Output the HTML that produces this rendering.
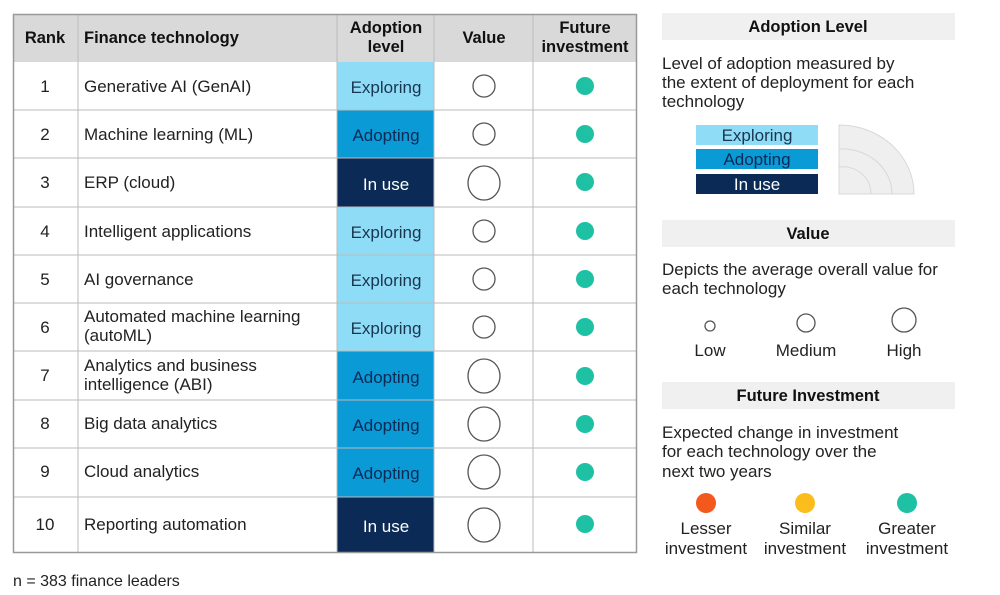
<!DOCTYPE html>
<html><head><meta charset="utf-8"><style>
html,body{margin:0;padding:0;background:#fff;}
svg{display:block;font-family:"Liberation Sans",sans-serif;}
</style></head><body>
<svg width="1000" height="595" viewBox="0 0 1000 595" xmlns="http://www.w3.org/2000/svg">
<rect x="13" y="14" width="624" height="48" fill="#d9d9d9"/>
<g font-weight="bold" font-size="16.5" fill="#111" text-anchor="middle">
<text x="45" y="43">Rank</text>
<text x="84" y="43" text-anchor="start">Finance technology</text>
<text x="386" y="33">Adoption</text><text x="386" y="52">level</text>
<text x="484" y="43">Value</text>
<text x="585" y="33">Future</text><text x="585" y="52">investment</text>
</g>
<g>
<rect x="337" y="62" width="97" height="48" fill="#8fdcf7"/>
<rect x="337" y="110" width="97" height="48" fill="#0a9ad6"/>
<rect x="337" y="158" width="97" height="49" fill="#0b2a55"/>
<rect x="337" y="207" width="97" height="48" fill="#8fdcf7"/>
<rect x="337" y="255" width="97" height="48" fill="#8fdcf7"/>
<rect x="337" y="303" width="97" height="48" fill="#8fdcf7"/>
<rect x="337" y="351" width="97" height="49" fill="#0a9ad6"/>
<rect x="337" y="400" width="97" height="48" fill="#0a9ad6"/>
<rect x="337" y="448" width="97" height="49" fill="#0a9ad6"/>
<rect x="337" y="497" width="97" height="56" fill="#0b2a55"/>
</g>
<g stroke="#bbb" stroke-width="1">
<line x1="13" y1="110" x2="637" y2="110"/><line x1="13" y1="158" x2="637" y2="158"/>
<line x1="13" y1="207" x2="637" y2="207"/><line x1="13" y1="255" x2="637" y2="255"/>
<line x1="13" y1="303" x2="637" y2="303"/><line x1="13" y1="351" x2="637" y2="351"/>
<line x1="13" y1="400" x2="637" y2="400"/><line x1="13" y1="448" x2="637" y2="448"/>
<line x1="13" y1="497" x2="637" y2="497"/>
<line x1="78" y1="14" x2="78" y2="553"/><line x1="337" y1="14" x2="337" y2="553"/>
<line x1="434" y1="14" x2="434" y2="553"/><line x1="533" y1="14" x2="533" y2="553"/>
</g>
<rect x="13.5" y="14.5" width="623" height="538" fill="none" stroke="#999" stroke-width="1.5"/>
<g font-size="17" fill="#222">
<g text-anchor="middle">
<text x="45" y="92">1</text><text x="45" y="140">2</text><text x="45" y="188">3</text>
<text x="45" y="237">4</text><text x="45" y="285">5</text><text x="45" y="333">6</text>
<text x="45" y="381">7</text><text x="45" y="429">8</text><text x="45" y="477">9</text>
<text x="45" y="530">10</text>
</g>
<text x="84" y="92">Generative AI (GenAI)</text>
<text x="84" y="140">Machine learning (ML)</text>
<text x="84" y="188">ERP (cloud)</text>
<text x="84" y="237">Intelligent applications</text>
<text x="84" y="285">AI governance</text>
<text x="84" y="322">Automated machine learning</text><text x="84" y="341">(autoML)</text>
<text x="84" y="371">Analytics and business</text><text x="84" y="390">intelligence (ABI)</text>
<text x="84" y="429">Big data analytics</text>
<text x="84" y="477">Cloud analytics</text>
<text x="84" y="530">Reporting automation</text>
</g>
<g font-size="17" text-anchor="middle">
<text x="386" y="93" fill="#1a3550">Exploring</text>
<text x="386" y="141" fill="#0b2a55">Adopting</text>
<text x="386" y="190" fill="#fff">In use</text>
<text x="386" y="238" fill="#1a3550">Exploring</text>
<text x="386" y="286" fill="#1a3550">Exploring</text>
<text x="386" y="334" fill="#1a3550">Exploring</text>
<text x="386" y="383" fill="#0b2a55">Adopting</text>
<text x="386" y="431" fill="#0b2a55">Adopting</text>
<text x="386" y="479" fill="#0b2a55">Adopting</text>
<text x="386" y="532" fill="#fff">In use</text>
</g>
<g fill="#fff" stroke="#555" stroke-width="1.3">
<circle cx="484" cy="86" r="11"/><circle cx="484" cy="134" r="11"/>
<ellipse cx="484" cy="183" rx="16" ry="17"/>
<circle cx="484" cy="231" r="11"/><circle cx="484" cy="279" r="11"/>
<circle cx="484" cy="327" r="11"/>
<ellipse cx="484" cy="376" rx="16" ry="17"/>
<ellipse cx="484" cy="424" rx="16" ry="17"/>
<ellipse cx="484" cy="472" rx="16" ry="17"/>
<ellipse cx="484" cy="525" rx="16" ry="17"/>
</g>
<g fill="#1fc1a4">
<circle cx="585" cy="86" r="9"/><circle cx="585" cy="134" r="9"/><circle cx="585" cy="182" r="9"/>
<circle cx="585" cy="231" r="9"/><circle cx="585" cy="279" r="9"/><circle cx="585" cy="327" r="9"/>
<circle cx="585" cy="376" r="9"/><circle cx="585" cy="424" r="9"/><circle cx="585" cy="472" r="9"/>
<circle cx="585" cy="524" r="9"/>
</g>
<text x="13" y="586" font-size="16" fill="#222">n = 383 finance leaders</text>

<rect x="662" y="13" width="293" height="27" fill="#f0f0f0"/>
<text x="808" y="32" font-size="16.5" font-weight="bold" text-anchor="middle" fill="#111">Adoption Level</text>
<g font-size="17" fill="#222">
<text x="662" y="69">Level of adoption measured by</text>
<text x="662" y="88">the extent of deployment for each</text>
<text x="662" y="107">technology</text>
</g>
<rect x="696" y="125" width="122" height="20" fill="#8fdcf7"/>
<rect x="696" y="149" width="122" height="20" fill="#0a9ad6"/>
<rect x="696" y="174" width="122" height="20" fill="#0b2a55"/>
<g font-size="17" text-anchor="middle">
<text x="757" y="141" fill="#1a3550">Exploring</text>
<text x="757" y="165" fill="#0b2a55">Adopting</text>
<text x="757" y="190" fill="#fff">In use</text>
</g>
<g fill="#efefef" stroke="#d8d8d8" stroke-width="1">
<path d="M839 194 V125 A75 69 0 0 1 914 194 Z"/>
<path d="M839 194 V149 A50 45 0 0 1 892 194" fill="none"/>
<path d="M839 194 V167 A28 27 0 0 1 871 194" fill="none"/>
</g>
<rect x="662" y="220" width="293" height="27" fill="#f0f0f0"/>
<text x="808" y="239" font-size="16.5" font-weight="bold" text-anchor="middle" fill="#111">Value</text>
<g font-size="17" fill="#222">
<text x="662" y="275">Depicts the average overall value for</text>
<text x="662" y="294">each technology</text>
</g>
<g fill="#fff" stroke="#555" stroke-width="1.3">
<circle cx="710" cy="326" r="5"/><circle cx="806" cy="323" r="9"/><circle cx="904" cy="320" r="12"/>
</g>
<g font-size="17" fill="#222" text-anchor="middle">
<text x="710" y="356">Low</text><text x="806" y="356">Medium</text><text x="904" y="356">High</text>
</g>
<rect x="662" y="382" width="293" height="27" fill="#f0f0f0"/>
<text x="808" y="401" font-size="16.5" font-weight="bold" text-anchor="middle" fill="#111">Future Investment</text>
<g font-size="17" fill="#222">
<text x="662" y="438">Expected change in investment</text>
<text x="662" y="457">for each technology over the</text>
<text x="662" y="477">next two years</text>
</g>
<circle cx="706" cy="503" r="10" fill="#f3581d"/>
<circle cx="805" cy="503" r="10" fill="#fbbd1c"/>
<circle cx="907" cy="503" r="10" fill="#1fc1a4"/>
<g font-size="17" fill="#222" text-anchor="middle">
<text x="706" y="534">Lesser</text><text x="706" y="554">investment</text>
<text x="805" y="534">Similar</text><text x="805" y="554">investment</text>
<text x="907" y="534">Greater</text><text x="907" y="554">investment</text>
</g>
</svg>
</body></html>
